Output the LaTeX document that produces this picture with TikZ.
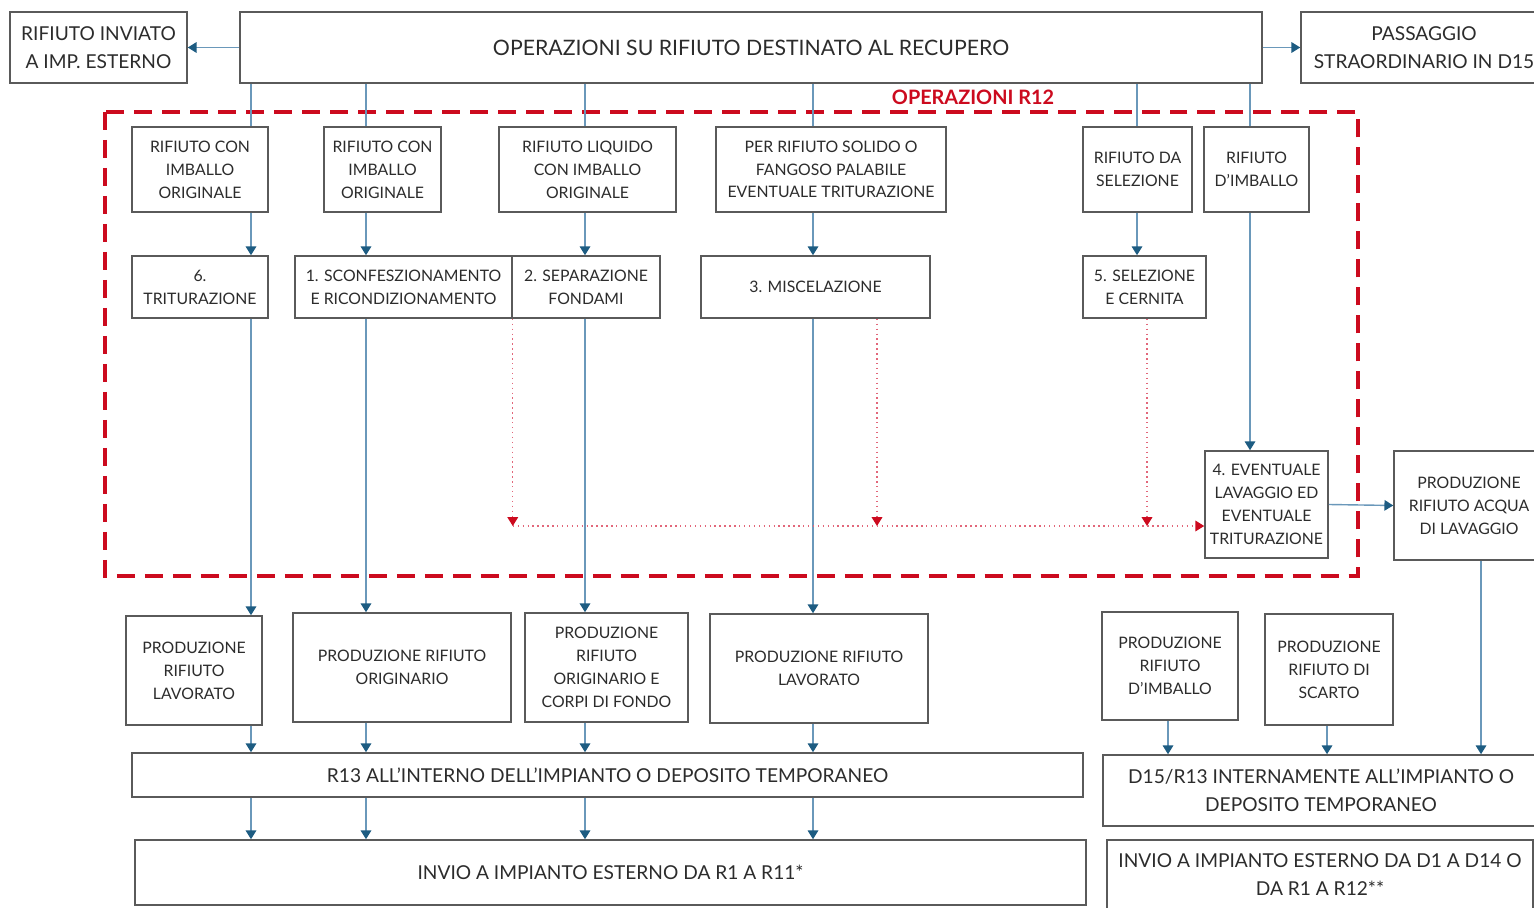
\documentclass[tikz,border=0pt]{standalone}
\usepackage{fontspec}
\setmainfont{Lato}
\usetikzlibrary{arrows.meta}
\definecolor{boxgray}{HTML}{5A5A5A}
\definecolor{txtgray}{HTML}{2C2C2C}
\definecolor{flowblue}{HTML}{6A98BA}
\definecolor{tipblue}{HTML}{1D5C82}
\definecolor{rdash}{HTML}{CC0A1E}
\definecolor{rdot}{HTML}{E2677A}
\tikzset{
  box/.style={draw=boxgray, line width=0.9pt, align=center, text=txtgray,
    inner sep=0pt, font=\fontsize{9}{13}\selectfont},
  bigbox/.style={box, font=\fontsize{10.9}{15.9}\selectfont},
  feed/.style={draw=flowblue, line width=0.8pt},
  flow/.style={feed, -{Triangle[length=5pt,width=6pt,color=tipblue]}},
  redflow/.style={draw=rdot, line width=0.8pt, dotted,
    -{Triangle[length=5pt,width=6pt,color=rdash]}},
  r12/.style={draw=rdash, line width=2.8pt, dash pattern=on 0.36cm off 0.2cm},
}
\begin{document}
\begin{tikzpicture}[x=0.02cm, y=-0.02cm]
  \useasboundingbox (0,0) rectangle (1534,908);
  \fill[white] (0,0) rectangle (1534,908);
  \clip (0,0) rectangle (1534,908);

  \node[bigbox, minimum width=20.44cm, minimum height=1.42cm, font=\fontsize{12.1}{15.9}\selectfont] (ops) at (751,47.5) {OPERAZIONI SU RIFIUTO DESTINATO AL RECUPERO};
  \node[bigbox, minimum width=3.54cm, minimum height=1.42cm] (inviato) at (98.5,47.5) {RIFIUTO INVIATO\\A IMP. ESTERNO};
  \node[bigbox, minimum width=4.92cm, minimum height=1.42cm] (pass) at (1424,47.5) {PASSAGGIO\\STRAORDINARIO IN D15};

  \draw[r12] (105,112) rectangle (1358,576);
  \node[text=rdash, font=\bfseries\fontsize{11.3}{12}\selectfont] (r12lab) at (973,97) {OPERAZIONI R12};

  \node[box, minimum width=2.72cm, minimum height=1.70cm] (A1) at (200,169.5) {RIFIUTO CON\\IMBALLO\\ORIGINALE};
  \node[box, minimum width=2.34cm, minimum height=1.70cm] (A2) at (382.5,169.5) {RIFIUTO CON\\IMBALLO\\ORIGINALE};
  \node[box, minimum width=3.54cm, minimum height=1.70cm] (A3) at (587.5,169.5) {RIFIUTO LIQUIDO\\CON IMBALLO\\ORIGINALE};
  \node[box, minimum width=4.60cm, minimum height=1.70cm] (A4) at (831,169.5) {PER RIFIUTO SOLIDO O\\FANGOSO PALABILE\\EVENTUALE TRITURAZIONE};
  \node[box, minimum width=2.18cm, minimum height=1.70cm] (A5) at (1137.5,169.5) {RIFIUTO DA\\SELEZIONE};
  \node[box, minimum width=2.10cm, minimum height=1.70cm] (A6) at (1256.5,169.5) {RIFIUTO\\D'IMBALLO};

  \node[box, minimum width=2.72cm, minimum height=1.24cm] (B1) at (200,287) {6.\\TRITURAZIONE};
  \node[box, minimum width=4.34cm, minimum height=1.24cm] (B2) at (403.5,287) {1. SCONFESZIONAMENTO\\E RICONDIZIONAMENTO};
  \node[box, minimum width=2.96cm, minimum height=1.24cm] (B3) at (586,287) {2. SEPARAZIONE\\FONDAMI};
  \node[box, minimum width=4.58cm, minimum height=1.24cm] (B4) at (815.5,287) {3. MISCELAZIONE};
  \node[box, minimum width=2.46cm, minimum height=1.24cm] (B5) at (1144.5,287) {5. SELEZIONE\\E CERNITA};

  \node[box, minimum width=2.46cm, minimum height=2.14cm] (lav) at (1266.5,504.5) {4. EVENTUALE\\LAVAGGIO ED\\EVENTUALE\\TRITURAZIONE};
  \node[box, minimum width=3.00cm, minimum height=2.18cm] (acqua) at (1469,505.5) {PRODUZIONE\\RIFIUTO ACQUA\\DI LAVAGGIO};

  \node[box, minimum width=2.72cm, minimum height=2.18cm] (C1) at (194,670.5) {PRODUZIONE\\RIFIUTO\\LAVORATO};
  \node[box, minimum width=4.36cm, minimum height=2.18cm] (C2) at (402,667.5) {PRODUZIONE RIFIUTO\\ORIGINARIO};
  \node[box, minimum width=3.26cm, minimum height=2.18cm] (C3) at (606.5,667.5) {PRODUZIONE\\RIFIUTO\\ORIGINARIO E\\CORPI DI FONDO};
  \node[box, minimum width=4.36cm, minimum height=2.18cm] (C4) at (819,668.5) {PRODUZIONE RIFIUTO\\LAVORATO};
  \node[box, minimum width=2.72cm, minimum height=2.16cm] (C5) at (1170,666) {PRODUZIONE\\RIFIUTO\\D'IMBALLO};
  \node[box, minimum width=2.56cm, minimum height=2.22cm] (C6) at (1329,669.5) {PRODUZIONE\\RIFIUTO DI\\SCARTO};

  \node[bigbox, minimum width=19.02cm, minimum height=0.88cm] (r13) at (607.5,775) {R13 ALL'INTERNO DELL'IMPIANTO O DEPOSITO TEMPORANEO};
  \node[bigbox, minimum width=8.72cm, minimum height=1.42cm] (d15) at (1321,790.5) {D15/R13 INTERNAMENTE ALL'IMPIANTO O\\DEPOSITO TEMPORANEO};
  \node[bigbox, minimum width=19.02cm, minimum height=1.30cm] (invio) at (610.5,872.5) {INVIO A IMPIANTO ESTERNO DA R1 A R11*};
  \node[bigbox, minimum width=8.52cm, minimum height=1.40cm] (invio2) at (1320,875) {INVIO A IMPIANTO ESTERNO DA D1 A D14 O\\DA R1 A R12**};

  \coordinate (k1) at (251,0);
  \coordinate (k2) at (366,0);
  \coordinate (k3) at (585,0);
  \coordinate (k4) at (813,0);
  \coordinate (k5) at (1137,0);
  \coordinate (k6) at (1250,0);
  \coordinate (k7) at (1168,0);
  \coordinate (k8) at (1327,0);
  \coordinate (k9) at (1481,0);

  \draw[flow] (ops.west) -- (inviato.east);
  \draw[flow] (ops.east) -- (pass.west);

  \draw[feed] (k1 |- ops.south) -- (k1 |- A1.north);
  \draw[feed] (k2 |- ops.south) -- (k2 |- A2.north);
  \draw[feed] (k3 |- ops.south) -- (k3 |- A3.north);
  \draw[feed] (k4 |- ops.south) -- (k4 |- A4.north);
  \draw[feed] (k5 |- ops.south) -- (k5 |- A5.north);
  \draw[feed] (k6 |- ops.south) -- (k6 |- A6.north);

  \draw[flow] (k1 |- A1.south) -- (k1 |- B1.north);
  \draw[flow] (k2 |- A2.south) -- (k2 |- B2.north);
  \draw[flow] (k3 |- A3.south) -- (k3 |- B3.north);
  \draw[flow] (k4 |- A4.south) -- (k4 |- B4.north);
  \draw[flow] (k5 |- A5.south) -- (k5 |- B5.north);
  \draw[flow] (k6 |- A6.south) -- (k6 |- lav.north);

  \draw[flow] (k1 |- B1.south) -- (k1 |- C1.north);
  \draw[flow] (k2 |- B2.south) -- (k2 |- C2.north);
  \draw[flow] (k3 |- B3.south) -- (k3 |- C3.north);
  \draw[flow] (k4 |- B4.south) -- (k4 |- C4.north);

  \draw[flow] (k1 |- C1.south) -- (k1 |- r13.north);
  \draw[flow] (k2 |- C2.south) -- (k2 |- r13.north);
  \draw[flow] (k3 |- C3.south) -- (k3 |- r13.north);
  \draw[flow] (k4 |- C4.south) -- (k4 |- r13.north);

  \draw[flow] (k1 |- r13.south) -- (k1 |- invio.north);
  \draw[flow] (k2 |- r13.south) -- (k2 |- invio.north);
  \draw[flow] (k3 |- r13.south) -- (k3 |- invio.north);
  \draw[flow] (k4 |- r13.south) -- (k4 |- invio.north);

  \draw[flow] (lav.east) -- (acqua.west);
  \draw[flow] (k7 |- C5.south) -- (k7 |- d15.north);
  \draw[flow] (k8 |- C6.south) -- (k8 |- d15.north);
  \draw[flow] (k9 |- acqua.south) -- (k9 |- d15.north);

  \coordinate (rl) at (0,526);
  \coordinate (r2) at (877,0);
  \coordinate (r3) at (1147,0);
  \draw[redflow] (B2.south east) -- (B2.south east |- rl);
  \draw[redflow] (r2 |- B4.south) -- (r2 |- rl);
  \draw[redflow] (r3 |- B5.south) -- (r3 |- rl);
  \draw[redflow] (B2.south east |- rl) -- (lav.west |- rl);
\end{tikzpicture}
\end{document}
